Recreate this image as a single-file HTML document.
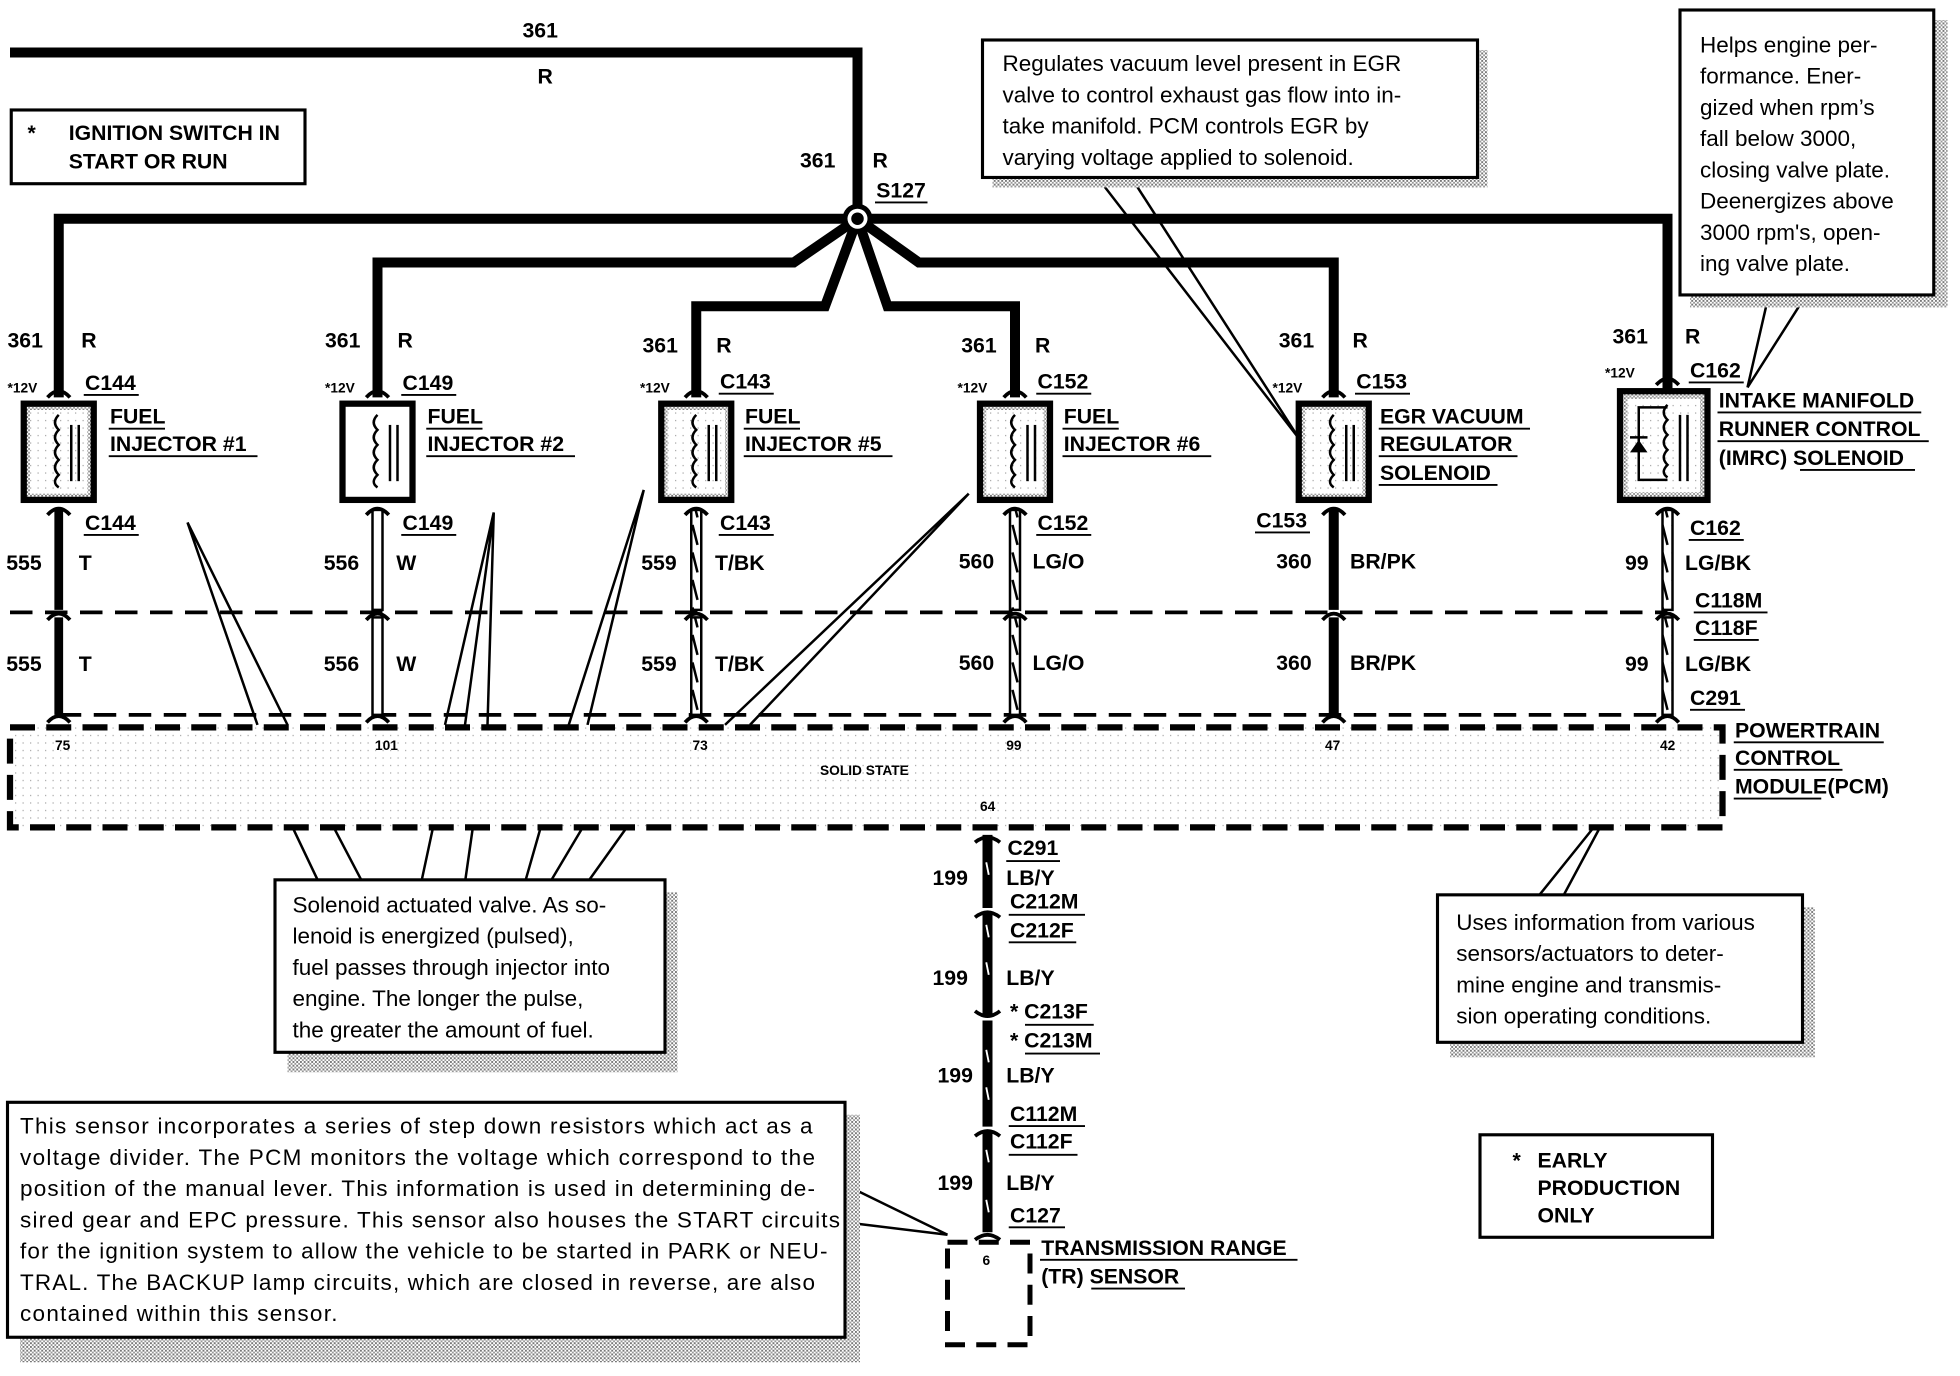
<!DOCTYPE html>
<html><head><meta charset="utf-8"><style>
html,body{margin:0;padding:0;background:#fff;}
svg{display:block;}
.b{font-family:"Liberation Sans",sans-serif;font-weight:bold;font-size:17px;fill:#000;}
.s{font-family:"Liberation Sans",sans-serif;font-weight:bold;font-size:11px;fill:#000;}
.c{font-family:"Liberation Sans",sans-serif;font-size:18px;fill:#000;}
</style></head><body>
<svg width="1960" height="1376" viewBox="0 0 1568 1101" preserveAspectRatio="none" xmlns="http://www.w3.org/2000/svg">
<defs>
<pattern id="st" width="3" height="3" patternUnits="userSpaceOnUse"><rect width="3" height="3" fill="#fff"/><rect width="1.5" height="1.5" fill="#777"/><rect x="1.5" y="1.5" width="1.5" height="1.5" fill="#999"/></pattern>
<pattern id="lt" width="6" height="6" patternUnits="userSpaceOnUse"><rect width="6" height="6" fill="#fff"/><rect width="1" height="1" fill="#aaa"/></pattern>
<pattern id="hz" width="8" height="22" patternUnits="userSpaceOnUse"><rect width="8" height="22" fill="#fff"/><line x1="2" y1="2" x2="6" y2="18" stroke="#000" stroke-width="2"/></pattern>
</defs>

<!-- top wire -->
<g fill="none" stroke="#000" stroke-width="8" stroke-linejoin="miter">
<path d="M8 42 H686 V175"/>
<path d="M47 318 V175 H1334 V318"/>
<path d="M686 175 L635 210 H302 V318"/>
<path d="M686 175 L660 245 H557 V318"/>
<path d="M686 175 L710 245 H812 V318"/>
<path d="M686 175 L735 210 H1067 V318"/>
</g>
<circle cx="686" cy="175" r="12" fill="#000"/><circle cx="686" cy="175" r="8" fill="#fff"/><circle cx="686" cy="175" r="5" fill="#000"/>
<text class="b" x="418" y="30">361</text><text class="b" x="430" y="67">R</text>
<text class="b" x="640" y="134">361</text><text class="b" x="698" y="134">R</text>
<text class="b" x="701" y="158">S127</text><line x1="700" y1="162" x2="742" y2="162" stroke="#000" stroke-width="1.5"/>

<!-- ignition box -->
<rect x="9" y="88" width="235" height="59" fill="#fff" stroke="#000" stroke-width="2.5"/>
<text class="b" x="22" y="112">*</text><text class="b" x="55" y="112">IGNITION SWITCH IN</text><text class="b" x="55" y="135">START OR RUN</text>

<!-- PCM -->
<rect x="8" y="582" width="1370" height="80" fill="url(#lt)" stroke="#000" stroke-width="5" stroke-dasharray="20 9"/>
<line x1="8" y1="490" x2="1334" y2="490" stroke="#000" stroke-width="3" stroke-dasharray="18 10"/>
<line x1="47" y1="572" x2="1334" y2="572" stroke="#000" stroke-width="3" stroke-dasharray="18 10"/>
<text class="s" x="44" y="600">75</text><text class="s" x="300" y="600">101</text><text class="s" x="554" y="600">73</text><text class="s" x="805" y="600">99</text><text class="s" x="1060" y="600">47</text><text class="s" x="1328" y="600">42</text>
<text class="s" x="656" y="620">SOLID STATE</text><text class="s" x="784" y="649">64</text>
<text class="b" x="1388" y="590">POWERTRAIN</text><text class="b" x="1388" y="612">CONTROL</text><text class="b" x="1388" y="635">MODULE</text><text class="b" x="1462" y="635">(PCM)</text>
<line x1="1387" y1="594" x2="1507" y2="594" stroke="#000" stroke-width="1.5"/><line x1="1387" y1="616" x2="1474" y2="616" stroke="#000" stroke-width="1.5"/><line x1="1387" y1="639" x2="1457" y2="639" stroke="#000" stroke-width="1.5"/>

<!-- columns -->
<g id="cols">
<!-- col1 x=47 -->
<rect x="19" y="323" width="56" height="77" fill="url(#st)" stroke="#000" stroke-width="5"/>
<rect x="24" y="328" width="46" height="67" fill="url(#lt)"/>
<line x1="47" y1="408" x2="47" y2="488" stroke="#000" stroke-width="7"/><line x1="47" y1="494" x2="47" y2="572" stroke="#000" stroke-width="7"/>
<!-- col2 -->
<rect x="274" y="323" width="56" height="77" fill="#fff" stroke="#000" stroke-width="5"/>
<rect x="298" y="408" width="8" height="80" fill="#fff" stroke="#000" stroke-width="2"/><rect x="298" y="494" width="8" height="78" fill="#fff" stroke="#000" stroke-width="2"/>
<!-- col3 -->
<rect x="529" y="323" width="56" height="77" fill="url(#st)" stroke="#000" stroke-width="5"/>
<rect x="534" y="328" width="46" height="67" fill="url(#lt)"/>
<rect x="553" y="408" width="8" height="80" fill="url(#hz)" stroke="#000" stroke-width="2"/><rect x="553" y="494" width="8" height="78" fill="url(#hz)" stroke="#000" stroke-width="2"/>
<!-- col4 -->
<rect x="784" y="323" width="56" height="77" fill="url(#st)" stroke="#000" stroke-width="5"/>
<rect x="789" y="328" width="46" height="67" fill="url(#lt)"/>
<rect x="808" y="408" width="8" height="80" fill="url(#hz)" stroke="#000" stroke-width="2"/><rect x="808" y="494" width="8" height="78" fill="url(#hz)" stroke="#000" stroke-width="2"/>
<!-- col5 -->
<rect x="1039" y="323" width="56" height="77" fill="url(#st)" stroke="#000" stroke-width="5"/>
<rect x="1044" y="328" width="46" height="67" fill="url(#lt)"/>
<line x1="1067" y1="408" x2="1067" y2="488" stroke="#000" stroke-width="8"/><line x1="1067" y1="494" x2="1067" y2="572" stroke="#000" stroke-width="8"/>
<!-- col6 -->
<rect x="1296" y="313" width="70" height="87" fill="url(#st)" stroke="#000" stroke-width="5"/>
<rect x="1302" y="319" width="58" height="75" fill="url(#lt)"/>
<rect x="1330" y="408" width="8" height="80" fill="url(#hz)" stroke="#000" stroke-width="2"/><rect x="1330" y="494" width="8" height="78" fill="url(#hz)" stroke="#000" stroke-width="2"/>
</g>
<!-- coil symbols -->
<g fill="none" stroke="#000" stroke-width="2">
<path d="M47 332 q-6 6 0 12 q-6 6 0 12 q-6 6 0 12 q-6 6 0 12 q-6 6 0 10"/><line x1="57" y1="340" x2="57" y2="385"/><line x1="63" y1="340" x2="63" y2="385"/>
<path d="M302 332 q-6 6 0 12 q-6 6 0 12 q-6 6 0 12 q-6 6 0 12 q-6 6 0 10"/><line x1="312" y1="340" x2="312" y2="385"/><line x1="318" y1="340" x2="318" y2="385"/>
<path d="M557 332 q-6 6 0 12 q-6 6 0 12 q-6 6 0 12 q-6 6 0 12 q-6 6 0 10"/><line x1="567" y1="340" x2="567" y2="385"/><line x1="573" y1="340" x2="573" y2="385"/>
<path d="M812 332 q-6 6 0 12 q-6 6 0 12 q-6 6 0 12 q-6 6 0 12 q-6 6 0 10"/><line x1="822" y1="340" x2="822" y2="385"/><line x1="828" y1="340" x2="828" y2="385"/>
<path d="M1067 332 q-6 6 0 12 q-6 6 0 12 q-6 6 0 12 q-6 6 0 12 q-6 6 0 10"/><line x1="1077" y1="340" x2="1077" y2="385"/><line x1="1083" y1="340" x2="1083" y2="385"/>
<path d="M1334 324 q-6 6 0 12 q-6 6 0 12 q-6 6 0 12 q-6 6 0 12 q-6 6 0 10"/><line x1="1344" y1="332" x2="1344" y2="385"/><line x1="1350" y1="332" x2="1350" y2="385"/>
<path d="M1334 326 H1311 V384 H1334"/>
</g>
<path d="M1304 362 h14 l-7 -10 z" fill="#000"/><line x1="1304" y1="350" x2="1318" y2="350" stroke="#000" stroke-width="2"/>
<!-- connector forks -->
<g fill="none" stroke="#000" stroke-width="3">
<path d="M38 318 q9 -10 18 0"/><path d="M38 412 q9 -10 18 0"/><path d="M38 496 q9 -10 18 0"/><path d="M38 578 q9 -10 18 0"/>
<path d="M293 318 q9 -10 18 0"/><path d="M293 412 q9 -10 18 0"/><path d="M293 496 q9 -10 18 0"/><path d="M293 578 q9 -10 18 0"/>
<path d="M548 318 q9 -10 18 0"/><path d="M548 412 q9 -10 18 0"/><path d="M548 496 q9 -10 18 0"/><path d="M548 578 q9 -10 18 0"/>
<path d="M803 318 q9 -10 18 0"/><path d="M803 412 q9 -10 18 0"/><path d="M803 496 q9 -10 18 0"/><path d="M803 578 q9 -10 18 0"/>
<path d="M1058 318 q9 -10 18 0"/><path d="M1058 412 q9 -10 18 0"/><path d="M1058 496 q9 -10 18 0"/><path d="M1058 578 q9 -10 18 0"/>
<path d="M1325 308 q9 -10 18 0"/><path d="M1325 412 q9 -10 18 0"/><path d="M1325 496 q9 -10 18 0"/><path d="M1325 578 q9 -10 18 0"/>
</g>

<!-- column labels -->
<g class="b">
<text class="b" x="6" y="278">361</text><text class="b" x="65" y="278">R</text>
<text class="b" x="260" y="278">361</text><text class="b" x="318" y="278">R</text>
<text class="b" x="514" y="282">361</text><text class="b" x="573" y="282">R</text>
<text class="b" x="769" y="282">361</text><text class="b" x="828" y="282">R</text>
<text class="b" x="1023" y="278">361</text><text class="b" x="1082" y="278">R</text>
<text class="b" x="1290" y="275">361</text><text class="b" x="1348" y="275">R</text>
</g>
<g class="s"><text class="s" x="6" y="314">*12V</text><text class="s" x="260" y="314">*12V</text><text class="s" x="512" y="314">*12V</text><text class="s" x="766" y="314">*12V</text><text class="s" x="1018" y="314">*12V</text><text class="s" x="1284" y="302">*12V</text></g>
<text class="b" x="68" y="312">C144</text><text class="b" x="322" y="312">C149</text><text class="b" x="576" y="311">C143</text><text class="b" x="830" y="311">C152</text><text class="b" x="1085" y="311">C153</text><text class="b" x="1352" y="302">C162</text>
<text class="b" x="88" y="339">FUEL</text><text class="b" x="88" y="361">INJECTOR #1</text>
<text class="b" x="342" y="339">FUEL</text><text class="b" x="342" y="361">INJECTOR #2</text>
<text class="b" x="596" y="339">FUEL</text><text class="b" x="596" y="361">INJECTOR #5</text>
<text class="b" x="851" y="339">FUEL</text><text class="b" x="851" y="361">INJECTOR #6</text>
<text class="b" x="1104" y="339">EGR VACUUM</text><text class="b" x="1104" y="361">REGULATOR</text><text class="b" x="1104" y="384">SOLENOID</text>
<text class="b" x="1375" y="326">INTAKE MANIFOLD</text><text class="b" x="1375" y="349">RUNNER CONTROL</text><text class="b" x="1375" y="372">(IMRC) SOLENOID</text>
<text class="b" x="68" y="424">C144</text><text class="b" x="322" y="424">C149</text><text class="b" x="576" y="424">C143</text><text class="b" x="830" y="424">C152</text><text class="b" x="1005" y="422">C153</text><text class="b" x="1352" y="428">C162</text>
<g stroke="#000" stroke-width="1.5">
<line x1="67" y1="316" x2="111" y2="316"/><line x1="321" y1="316" x2="365" y2="316"/><line x1="575" y1="315" x2="619" y2="315"/><line x1="829" y1="315" x2="873" y2="315"/><line x1="1084" y1="315" x2="1128" y2="315"/><line x1="1351" y1="306" x2="1395" y2="306"/>
<line x1="67" y1="428" x2="111" y2="428"/><line x1="321" y1="428" x2="365" y2="428"/><line x1="575" y1="428" x2="619" y2="428"/><line x1="829" y1="428" x2="873" y2="428"/><line x1="1004" y1="426" x2="1048" y2="426"/><line x1="1351" y1="432" x2="1395" y2="432"/>
<line x1="87" y1="343" x2="132" y2="343"/><line x1="87" y1="365" x2="206" y2="365"/><line x1="341" y1="343" x2="386" y2="343"/><line x1="341" y1="365" x2="460" y2="365"/><line x1="595" y1="343" x2="640" y2="343"/><line x1="595" y1="365" x2="714" y2="365"/><line x1="850" y1="343" x2="895" y2="343"/><line x1="850" y1="365" x2="969" y2="365"/>
<line x1="1103" y1="343" x2="1224" y2="343"/><line x1="1103" y1="365" x2="1214" y2="365"/><line x1="1103" y1="388" x2="1198" y2="388"/>
<line x1="1374" y1="330" x2="1537" y2="330"/><line x1="1374" y1="353" x2="1543" y2="353"/><line x1="1440" y1="376" x2="1532" y2="376"/>
<line x1="1355" y1="490" x2="1414" y2="490"/><line x1="1355" y1="512" x2="1407" y2="512"/><line x1="1352" y1="568" x2="1396" y2="568"/>
</g>
<g class="b">
<text class="b" x="5" y="456">555</text><text class="b" x="63" y="456">T</text><text class="b" x="5" y="537">555</text><text class="b" x="63" y="537">T</text>
<text class="b" x="259" y="456">556</text><text class="b" x="317" y="456">W</text><text class="b" x="259" y="537">556</text><text class="b" x="317" y="537">W</text>
<text class="b" x="513" y="456">559</text><text class="b" x="572" y="456">T/BK</text><text class="b" x="513" y="537">559</text><text class="b" x="572" y="537">T/BK</text>
<text class="b" x="767" y="455">560</text><text class="b" x="826" y="455">LG/O</text><text class="b" x="767" y="536">560</text><text class="b" x="826" y="536">LG/O</text>
<text class="b" x="1021" y="455">360</text><text class="b" x="1080" y="455">BR/PK</text><text class="b" x="1021" y="536">360</text><text class="b" x="1080" y="536">BR/PK</text>
<text class="b" x="1300" y="456">99</text><text class="b" x="1348" y="456">LG/BK</text><text class="b" x="1300" y="537">99</text><text class="b" x="1348" y="537">LG/BK</text>
<text class="b" x="1356" y="486">C118M</text><text class="b" x="1356" y="508">C118F</text><text class="b" x="1352" y="564">C291</text>
</g>

<!-- pointer lines upper -->
<g stroke="#000" stroke-width="2" fill="none">
<path d="M150 418 L206 580 M150 418 L230 580"/>
<path d="M395 410 L372 580 M395 410 L356 580 M395 410 L390 580"/>
<path d="M515 392 L455 580 M515 392 L470 580"/>
<path d="M775 395 L580 580 M775 395 L600 580"/>
<path d="M878 142 L1040 352 M905 142 L1040 352"/>
<path d="M1415 236 L1398 310 M1445 236 L1398 310"/>
</g>

<!-- callout: EGR -->
<rect x="794" y="40" width="396" height="110" fill="url(#st)"/>
<rect x="786" y="32" width="396" height="110" fill="#fff" stroke="#000" stroke-width="2.5"/>
<text class="c" x="802" y="57">Regulates vacuum level present in EGR</text>
<text class="c" x="802" y="82">valve to control exhaust gas flow into in-</text>
<text class="c" x="802" y="107">take manifold.  PCM controls EGR by</text>
<text class="c" x="802" y="132">varying voltage applied to solenoid.</text>

<!-- callout: IMRC -->
<rect x="1352" y="16" width="206" height="230" fill="url(#st)"/>
<rect x="1344" y="8" width="203" height="228" fill="#fff" stroke="#000" stroke-width="2.5"/>
<g class="c"><text class="c" x="1360" y="42">Helps engine per-</text><text class="c" x="1360" y="67">formance. Ener-</text><text class="c" x="1360" y="92">gized when rpm’s</text><text class="c" x="1360" y="117">fall below 3000,</text><text class="c" x="1360" y="142">closing valve plate.</text><text class="c" x="1360" y="167">Deenergizes above</text><text class="c" x="1360" y="192">3000 rpm's, open-</text><text class="c" x="1360" y="217">ing valve plate.</text></g>

<!-- pointer lines lower -->
<g stroke="#000" stroke-width="2" fill="none">
<path d="M235 664 L255 706 M268 664 L290 706 M346 664 L337 706 M378 664 L372 706 M432 664 L420 706 M465 664 L440 706 M500 664 L470 706"/>
<path d="M1230 718 L1275 662 M1250 718 L1280 662"/>
<path d="M676 948 L758 988 M676 978 L758 988"/>
</g>

<!-- callout: solenoid -->
<rect x="230" y="714" width="312" height="144" fill="url(#st)"/>
<rect x="220" y="704" width="312" height="138" fill="#fff" stroke="#000" stroke-width="2.5"/>
<text class="c" x="234" y="730">Solenoid actuated valve.  As so-</text>
<text class="c" x="234" y="755">lenoid is energized (pulsed),</text>
<text class="c" x="234" y="780">fuel passes through injector into</text>
<text class="c" x="234" y="805">engine.  The longer the pulse,</text>
<text class="c" x="234" y="830">the greater the amount of fuel.</text>

<!-- callout: PCM -->
<rect x="1160" y="726" width="292" height="120" fill="url(#st)"/>
<rect x="1150" y="716" width="292" height="118" fill="#fff" stroke="#000" stroke-width="2.5"/>
<text class="c" x="1165" y="744">Uses information from various</text>
<text class="c" x="1165" y="769">sensors/actuators to deter-</text>
<text class="c" x="1165" y="794">mine engine and transmis-</text>
<text class="c" x="1165" y="819">sion operating conditions.</text>

<!-- callout: TR -->
<rect x="16" y="892" width="672" height="198" fill="url(#st)"/>
<rect x="6" y="882" width="670" height="188" fill="#fff" stroke="#000" stroke-width="2.5"/>
<g class="c">
<text class="c" x="16" y="907" textLength="634">This sensor incorporates a series of step down resistors which act as a</text>
<text class="c" x="16" y="932" textLength="636">voltage divider. The PCM monitors the voltage which correspond to the</text>
<text class="c" x="16" y="957" textLength="636">position of the manual lever. This information is used in determining de-</text>
<text class="c" x="16" y="982" textLength="656">sired gear and EPC pressure. This sensor also houses the START circuits</text>
<text class="c" x="16" y="1007" textLength="646">for the ignition system to allow the vehicle to be started in PARK or NEU-</text>
<text class="c" x="16" y="1032" textLength="636">TRAL. The BACKUP lamp circuits, which are closed in reverse, are also</text>
<text class="c" x="16" y="1057" textLength="254">contained within this sensor.</text>
</g>

<!-- early production -->
<rect x="1184" y="908" width="186" height="82" fill="#fff" stroke="#000" stroke-width="2.5"/>
<text class="b" x="1210" y="934">*</text><text class="b" x="1230" y="934">EARLY</text><text class="b" x="1230" y="956">PRODUCTION</text><text class="b" x="1230" y="978">ONLY</text>

<!-- bottom wire -->
<line x1="790" y1="668" x2="790" y2="986" stroke="#000" stroke-width="8"/>
<g stroke="#fff" stroke-width="1.5"><line x1="789" y1="690" x2="791" y2="700"/><line x1="789" y1="740" x2="791" y2="750"/><line x1="789" y1="770" x2="791" y2="780"/><line x1="789" y1="840" x2="791" y2="850"/><line x1="789" y1="870" x2="791" y2="880"/><line x1="789" y1="920" x2="791" y2="930"/><line x1="789" y1="960" x2="791" y2="970"/></g>
<g fill="none" stroke="#fff" stroke-width="3"><line x1="780" y1="728" x2="800" y2="728"/><line x1="780" y1="815" x2="800" y2="815"/><line x1="780" y1="903" x2="800" y2="903"/></g>
<g fill="none" stroke="#000" stroke-width="3"><path d="M780 734 q10 -8 20 0"/><path d="M780 809 q10 8 20 0"/><path d="M780 909 q10 -8 20 0"/><path d="M780 674 q10 -8 20 0"/><path d="M780 992 q10 -8 20 0"/></g>
<g class="b">
<text class="b" x="746" y="708">199</text><text class="b" x="805" y="708">LB/Y</text>
<text class="b" x="806" y="684">C291</text><text class="b" x="808" y="727">C212M</text><text class="b" x="808" y="750">C212F</text>
<text class="b" x="746" y="788">199</text><text class="b" x="805" y="788">LB/Y</text>
<text class="b" x="808" y="815">* C213F</text><text class="b" x="808" y="838">* C213M</text>
<text class="b" x="750" y="866">199</text><text class="b" x="805" y="866">LB/Y</text>
<text class="b" x="808" y="897">C112M</text><text class="b" x="808" y="919">C112F</text>
<text class="b" x="750" y="952">199</text><text class="b" x="805" y="952">LB/Y</text>
<text class="b" x="808" y="978">C127</text>
<text class="b" x="833" y="1004">TRANSMISSION RANGE</text><text class="b" x="833" y="1027">(TR) SENSOR</text>
</g>
<g stroke="#000" stroke-width="1.5">
<line x1="805" y1="689" x2="848" y2="689"/><line x1="807" y1="732" x2="868" y2="732"/><line x1="807" y1="754" x2="861" y2="754"/><line x1="820" y1="820" x2="875" y2="820"/><line x1="820" y1="843" x2="880" y2="843"/><line x1="807" y1="901" x2="868" y2="901"/><line x1="807" y1="924" x2="862" y2="924"/><line x1="807" y1="982" x2="852" y2="982"/>
<line x1="832" y1="1008" x2="1038" y2="1008"/><line x1="873" y1="1031" x2="948" y2="1031"/>
</g>
<rect x="758" y="994" width="66" height="82" fill="none" stroke="#000" stroke-width="4" stroke-dasharray="16 9"/>
<text class="s" x="786" y="1012">6</text>
</svg>
</body></html>
